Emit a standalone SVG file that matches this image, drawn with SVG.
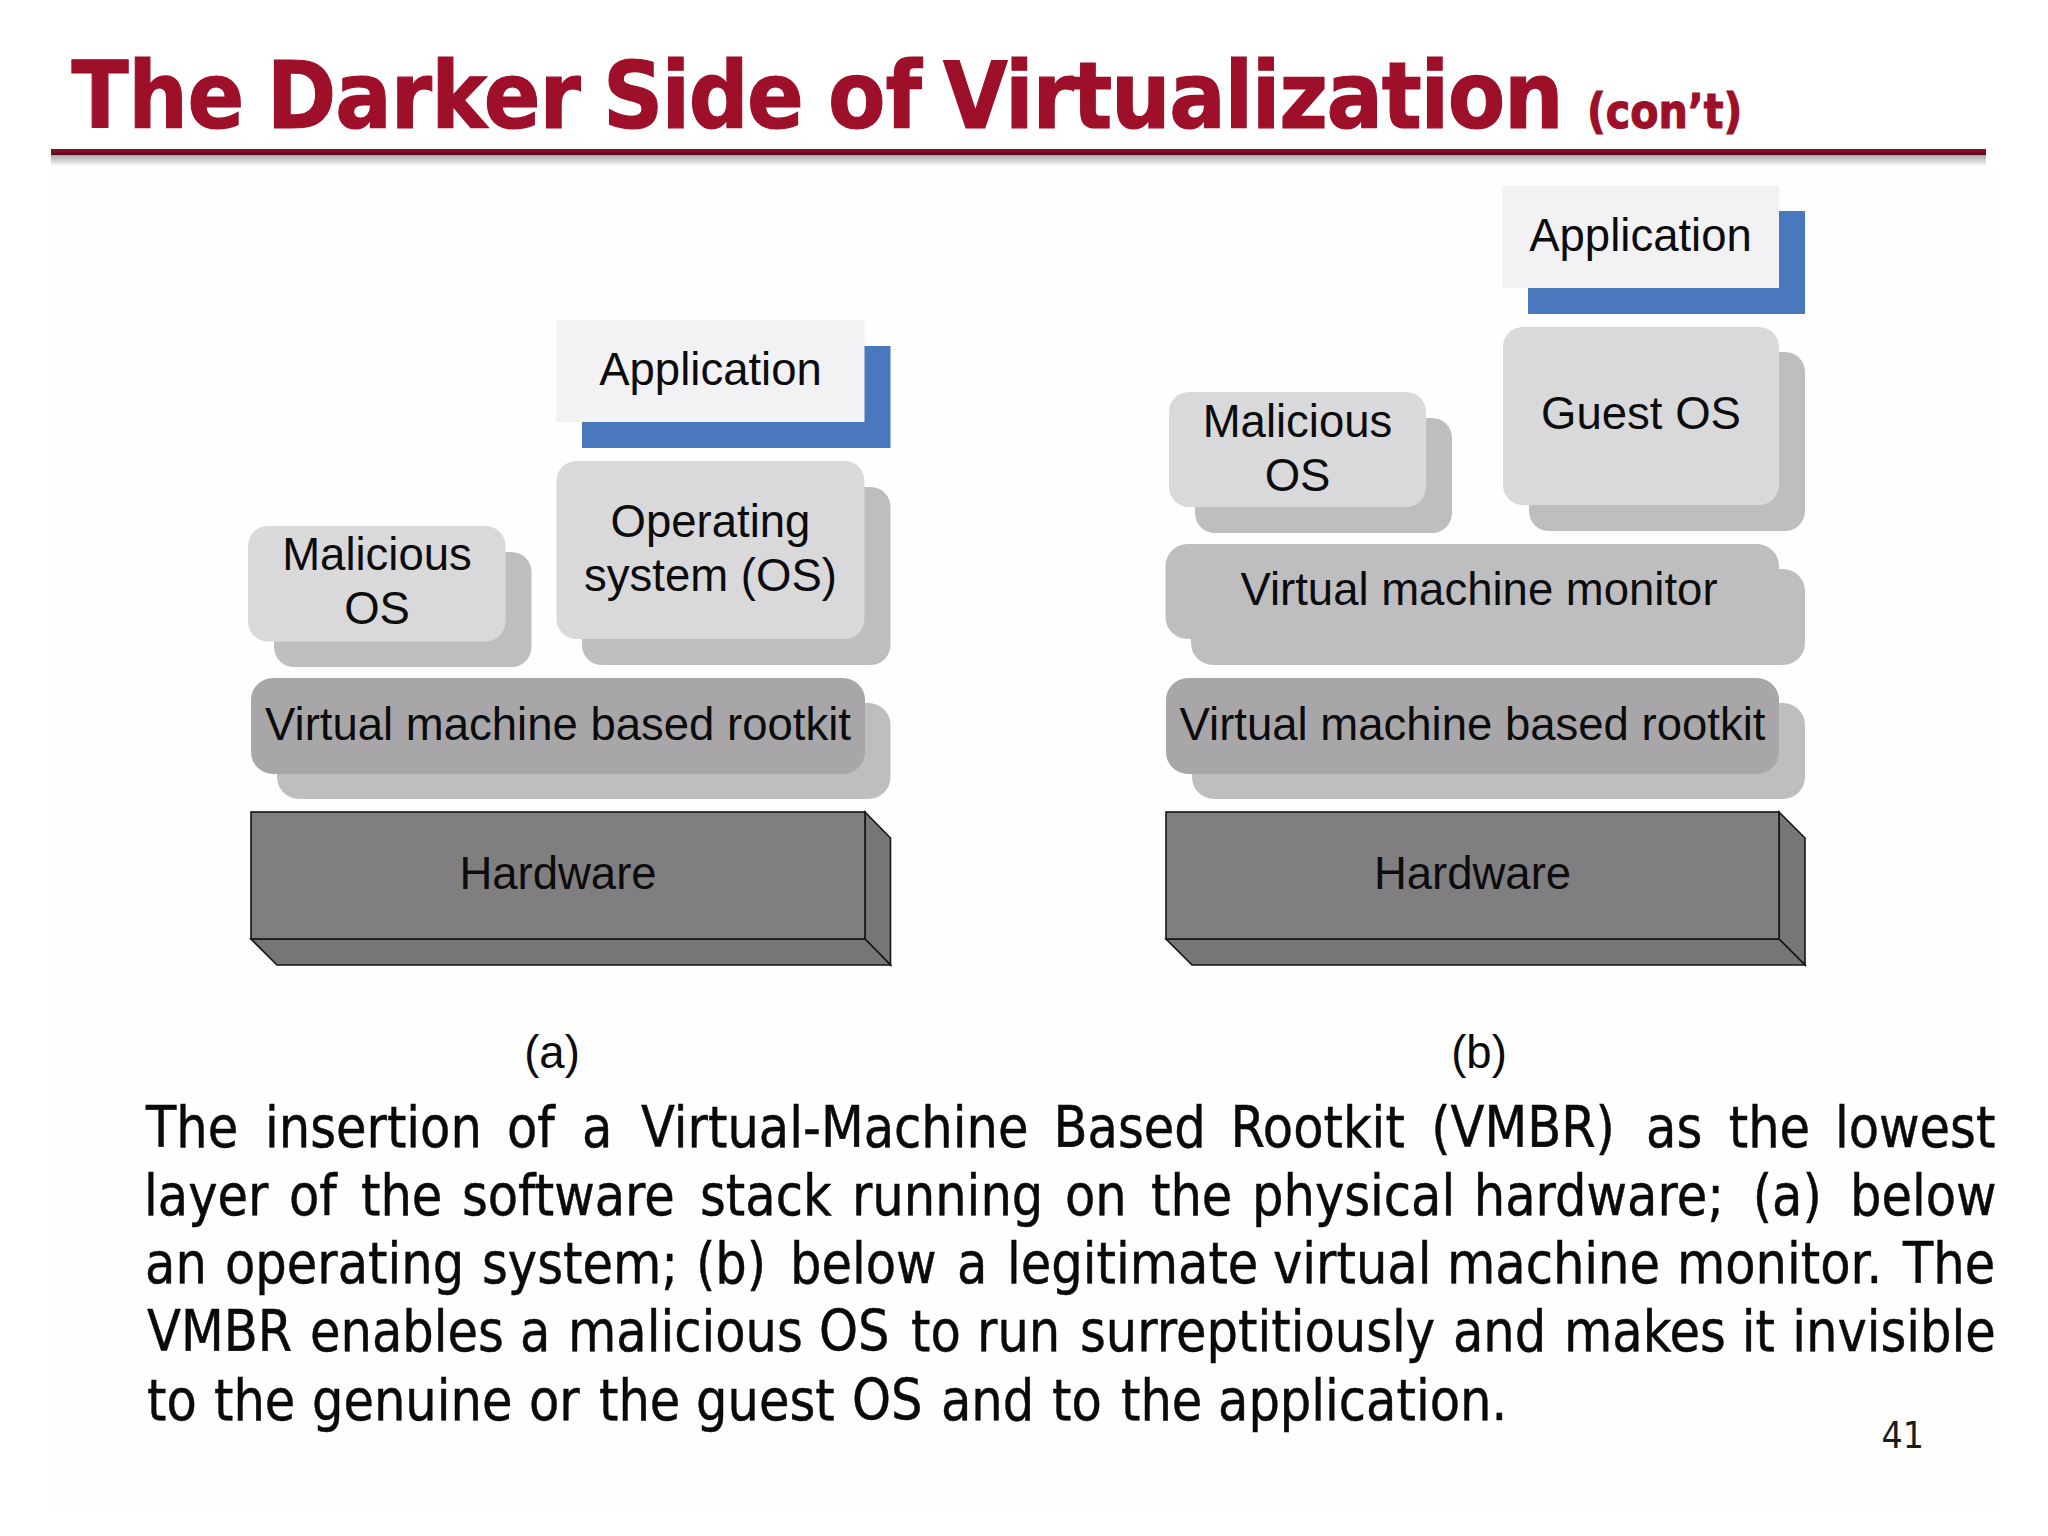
<svg xmlns="http://www.w3.org/2000/svg" width="2048" height="1536" viewBox="0 0 2048 1536">
<defs>
<linearGradient id="rule" x1="0" y1="0" x2="0" y2="1"><stop offset="0" stop-color="#8c0f26"/><stop offset="0.6" stop-color="#740c20"/><stop offset="1" stop-color="#560714"/></linearGradient>
<linearGradient id="ruleShadow" x1="0" y1="0" x2="0" y2="1"><stop offset="0" stop-color="#a8a8a8"/><stop offset="1" stop-color="#fefefe"/></linearGradient>
</defs>
<style>
.t{font-family:"DejaVu Sans","Liberation Sans",sans-serif;font-weight:700;fill:#9e0f29;stroke:#9e0f29;stroke-width:1.2}
.b{font-family:"DejaVu Sans","Liberation Sans",sans-serif;font-size:57px;fill:#0a0a0a;stroke:#0a0a0a;stroke-width:0.5}
.l{font-family:"Liberation Sans",Arial,sans-serif;font-size:45.500px;fill:#0c0c0c;text-anchor:middle}
.app{fill:#f2f1f4}.blue{fill:#4a78bd}.light{fill:#d9d8db}.sh{fill:#bebdc0}.mid{fill:#a8a6a9}
.hf{fill:#807e81;stroke:#151515;stroke-width:1.6}.hs{fill:#777578;stroke:#151515;stroke-width:1.6;stroke-linejoin:miter}
</style>
<rect width="2048" height="1536" fill="#fff"/>
<rect x="48" y="170" width="1950" height="1340" fill="#fefefe"/>
<g id="title">
<text class="t" font-size="92" y="128" transform="scale(0.91,1)"><tspan x="78.500" letter-spacing="-0.400">The</tspan> <tspan x="293" letter-spacing="-1">Darker</tspan> <tspan x="662.600" letter-spacing="-1.800">Side</tspan> <tspan x="910">of</tspan> <tspan x="1036.300" letter-spacing="-1.450">Virtualization</tspan></text>
<text class="t" font-size="48" x="1845.300" y="128" transform="scale(0.86,1)">(con’t)</text>
<rect x="51" y="155" width="1935" height="11" fill="url(#ruleShadow)"/>
<rect x="51" y="149" width="1935" height="6" fill="url(#rule)"/>
</g>

<g id="a-application"><rect class="blue" x="582" y="346" width="308.500" height="102"/><rect class="app" x="556.500" y="320" width="308" height="102"/><text class="l" x="710.500" y="385">Application</text></g>
<g id="a-os"><rect class="sh" x="582" y="487" width="308.500" height="178" rx="20"/><rect class="light" x="556.500" y="461" width="308" height="178" rx="20"/><text class="l" x="710.500" y="537">Operating</text><text class="l" x="710.500" y="591">system (OS)</text></g>
<g id="a-malicious"><rect class="sh" x="274" y="552" width="257.500" height="115" rx="20"/><rect class="light" x="248" y="526" width="257.500" height="115.500" rx="20"/><text class="l" x="377" y="570">Malicious</text><text class="l" x="377" y="624">OS</text></g>
<g id="a-rootkit"><rect class="sh" x="277" y="703" width="613.500" height="96" rx="22"/><rect class="mid" x="251" y="678" width="614" height="96" rx="22"/><text class="l" x="558" y="740">Virtual machine based rootkit</text></g>
<g id="a-hardware"><polygon class="hs" points="865,812 890.500,838 890.500,965 865,939"/><polygon class="hs" points="251,939 865,939 890.500,965 277,965"/><rect class="hf" x="251" y="812" width="614" height="127"/><text class="l" x="558" y="889">Hardware</text></g>
<g id="a-caption"><text class="l" x="552" y="1068">(a)</text></g>

<g id="b-application"><rect class="blue" x="1528" y="211" width="277" height="103"/><rect class="app" x="1502.500" y="186" width="276.500" height="102"/><text class="l" x="1640.500" y="251">Application</text></g>
<g id="b-guest"><rect class="sh" x="1529" y="352" width="276" height="179" rx="20"/><rect class="light" x="1503" y="327" width="276" height="178" rx="20"/><text class="l" x="1641" y="429">Guest OS</text></g>
<g id="b-malicious"><rect class="sh" x="1195" y="418" width="257" height="115" rx="20"/><rect class="light" x="1169" y="392" width="257" height="115" rx="20"/><text class="l" x="1297.500" y="437">Malicious</text><text class="l" x="1297.500" y="491">OS</text></g>
<g id="b-vmm"><rect class="sh" x="1191" y="569" width="614" height="96" rx="22"/><rect class="sh" x="1165.500" y="544" width="613.500" height="95" rx="22"/><text class="l" x="1479" y="605">Virtual machine monitor</text></g>
<g id="b-rootkit"><rect class="sh" x="1192" y="703" width="613" height="96" rx="22"/><rect class="mid" x="1166" y="678" width="613" height="96" rx="22"/><text class="l" x="1472.500" y="740">Virtual machine based rootkit</text></g>
<g id="b-hardware"><polygon class="hs" points="1779,812 1805,838 1805,965 1779,939"/><polygon class="hs" points="1166,939 1779,939 1805,965 1192,965"/><rect class="hf" x="1166" y="812" width="613" height="127"/><text class="l" x="1472.500" y="889">Hardware</text></g>
<g id="b-caption"><text class="l" x="1479" y="1068">(b)</text></g>

<g id="body">
<text class="b" y="1147" transform="scale(0.87,1)"><tspan x="167.800">The</tspan> <tspan x="304.600">insertion</tspan> <tspan x="582.800">of</tspan> <tspan x="669">a</tspan> <tspan x="736.800">Virtual-Machine</tspan> <tspan x="1211">Based</tspan> <tspan x="1414.500">Rootkit</tspan> <tspan x="1645">(VMBR)</tspan> <tspan x="1892">as</tspan> <tspan x="1987">the</tspan> <tspan x="2109.100">lowest</tspan></text>
<text class="b" y="1215" transform="scale(0.87,1)"><tspan x="165.500">layer</tspan> <tspan x="332.200">of</tspan> <tspan x="414.900">the</tspan> <tspan x="531">software</tspan> <tspan x="804.600">stack</tspan> <tspan x="979.300">running</tspan> <tspan x="1224.100">on</tspan> <tspan x="1323">the</tspan> <tspan x="1439.100">physical</tspan> <tspan x="1694">hardware;</tspan> <tspan x="2014.600">(a)</tspan> <tspan x="2126.400">below</tspan></text>
<text class="b" y="1283" transform="scale(0.87,1)"><tspan x="166.700">an</tspan> <tspan x="258.600">operating</tspan> <tspan x="554">system;</tspan> <tspan x="800">(b)</tspan> <tspan x="908">below</tspan> <tspan x="1100">a</tspan> <tspan x="1157.500">legitimate</tspan> <tspan x="1463.200">virtual</tspan> <tspan x="1663.200">machine</tspan> <tspan x="1927.600">monitor.</tspan> <tspan x="2187.300">The</tspan></text>
<text class="b" y="1351.500" transform="scale(0.87,1)"><tspan x="169">VMBR</tspan> <tspan x="356.300">enables</tspan> <tspan x="597.700">a</tspan> <tspan x="652.900">malicious</tspan> <tspan x="941.400">OS</tspan> <tspan x="1047.100">to</tspan> <tspan x="1123">run</tspan> <tspan x="1241.400">surreptitiously</tspan> <tspan x="1670.100">and</tspan> <tspan x="1797.700">makes</tspan> <tspan x="2002">it</tspan> <tspan x="2060">invisible</tspan></text>
<text class="b" y="1420" transform="scale(0.87,1)"><tspan x="169">to</tspan> <tspan x="246">the</tspan> <tspan x="358.600">genuine</tspan> <tspan x="608">or</tspan> <tspan x="688.500">the</tspan> <tspan x="800">guest</tspan> <tspan x="979.300">OS</tspan> <tspan x="1081.600">and</tspan> <tspan x="1209.200">to</tspan> <tspan x="1288.500">the</tspan> <tspan x="1400">application.</tspan></text>
</g>
<g id="page"><text font-family="DejaVu Sans, sans-serif" font-size="38" fill="#1c1c1c" x="2138" y="1448" transform="scale(0.88,1)">41</text></g>
</svg>
